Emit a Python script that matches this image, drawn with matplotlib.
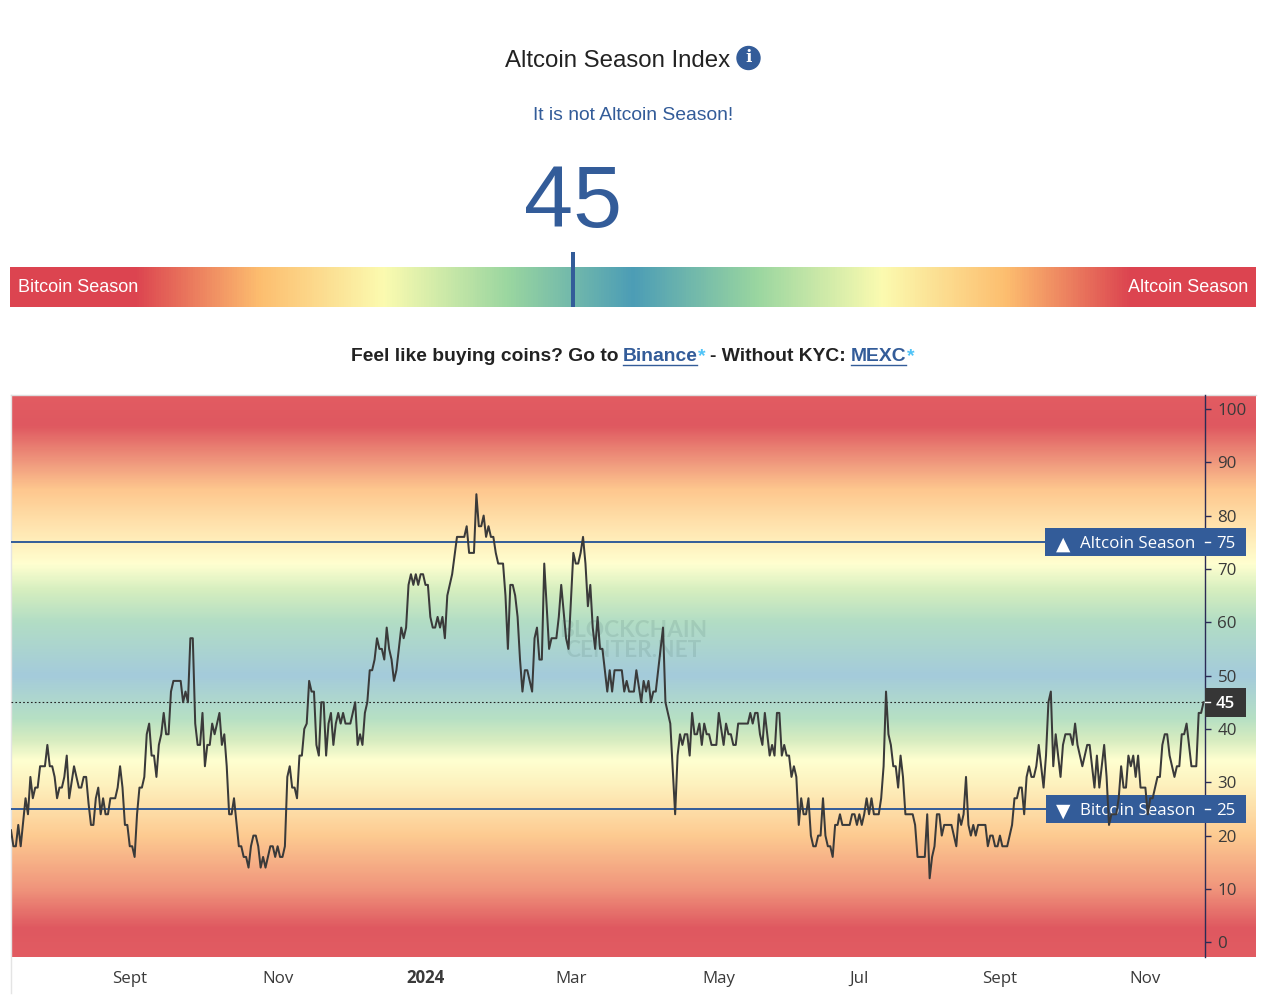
import numpy as np
import matplotlib
matplotlib.use("Agg")
import matplotlib.pyplot as plt
from matplotlib.colors import LinearSegmentedColormap
from matplotlib.patches import Circle, Rectangle
from matplotlib.transforms import blended_transform_factory

bars = [
    0, 1, 2, 3, 4, 6, 7, 8, 9, 10,
    11, 12, 14, 15, 16, 17, 18, 19, 20, 21,
    22, 23, 24, 26, 28, 29, 30, 31, 32, 33,
    34, 35, 36, 37, 38, 39, 40, 41, 43, 44,
    45, 46, 47, 48, 49, 50, 51, 52, 53, 54,
    55, 56, 57, 58, 59, 60, 61, 62, 63, 64,
    65, 66, 67, 70, 71, 72, 73, 74, 75, 76,
    77, 78, 79, 80, 81, 82, 83, 84, 86, 87,
    88, 89, 90, 91, 92, 94, 95, 96, 97, 98,
    99, 100, 101, 102, 103, 104, 105, 107, 108, 109,
    110, 111, 112, 113, 114, 115, 116, 117, 118, 119,
    120, 121, 122, 123, 124, 125, 126, 127, 128, 129,
    130, 131, 132, 133, 134, 135, 136, 137, 138, 140,
    142, 143, 144, 145, 146, 147, 148, 149, 150, 151,
    152, 153, 154, 155, 156, 157, 158, 159, 160, 161,
    162, 163, 164, 165, 166, 167, 168, 169, 170, 171,
    172, 173, 174, 175, 176, 177, 178, 179, 180, 181,
    182, 184, 187, 188, 189, 191, 192, 193, 194, 195,
    196, 197, 198, 199, 200, 201, 203, 204, 205, 206,
    207, 208, 209, 210, 211, 212, 213, 215, 216, 217,
    218, 219, 220, 222, 223, 225, 226, 227, 229, 230,
    232, 233, 234, 235, 236, 237, 238, 239, 240, 241,
    242, 243, 244, 246, 247, 248, 249, 252, 253, 254,
    255, 257, 258, 260, 261, 262, 263, 264, 265, 266,
    269, 270, 272, 274, 275, 276, 277, 278, 279, 280,
    281, 282, 283, 284, 285, 286, 287, 288, 289, 291,
    292, 294, 295, 296, 297, 298, 299, 300, 304, 305,
    306, 307, 308, 309, 310, 311, 313, 314, 315, 316,
    317, 318, 319, 320, 321, 322, 323, 324, 325, 326,
    327, 328, 329, 330, 331, 332, 333, 334, 335, 336,
    337, 338, 339, 340, 341, 342, 343, 346, 347, 348,
    349, 350, 351, 352, 353, 354, 355, 356, 358, 359,
    360, 361, 362, 363, 364, 365, 366, 367, 368, 369,
    372, 373, 374, 377, 378, 379, 380, 381, 382, 383,
    384, 385, 388, 389, 390, 391, 392, 393, 394, 395,
    396, 397, 398, 399, 402, 403, 404, 405, 406, 407,
    408, 409, 411, 413, 414, 415, 416, 417, 418, 419,
    420, 421, 422, 423, 424, 426, 427, 428, 429, 430,
    431, 433, 434, 435, 437, 438, 439, 440, 442, 444,
    445, 447, 448, 449, 451, 452, 453, 454, 456, 457,
    458, 459, 460, 461, 462, 463, 464, 465, 466, 468,
    469, 470, 471, 473, 474, 475, 476, 477, 478, 480,
    481, 482, 483, 484, 485, 487, 489, 490, 491, 492,
]
index_values = [
    21, 18, 18, 22, 18, 27, 24, 31, 27, 29,
    29, 33, 33, 37, 33, 33, 31, 27, 29, 29,
    31, 35, 27, 33, 29, 29, 31, 31, 26, 22,
    22, 27, 29, 24, 27, 24, 24, 27, 27, 29,
    33, 29, 22, 22, 18, 18, 16, 24, 29, 29,
    31, 39, 41, 35, 35, 31, 37, 39, 43, 39,
    39, 47, 49, 49, 45, 47, 45, 57, 57, 41,
    37, 37, 43, 33, 37, 37, 41, 39, 43, 37,
    39, 33, 24, 24, 27, 18, 18, 16, 16, 14,
    18, 20, 20, 18, 14, 16, 14, 18, 18, 16,
    18, 16, 16, 18, 31, 33, 29, 29, 27, 35,
    35, 40, 41, 49, 47, 47, 37, 35, 45, 45,
    35, 41, 43, 37, 41, 43, 41, 43, 41, 41,
    45, 37, 39, 37, 43, 45, 51, 51, 53, 57,
    55, 55, 53, 59, 55, 53, 49, 51, 55, 59,
    57, 59, 67, 69, 67, 69, 67, 69, 69, 67,
    67, 61, 59, 59, 61, 59, 61, 57, 65, 67,
    69, 76, 76, 78, 73, 73, 84, 78, 78, 80,
    76, 78, 76, 76, 73, 71, 71, 65, 55, 67,
    67, 65, 61, 53, 47, 51, 51, 47, 57, 59,
    53, 53, 71, 55, 57, 57, 61, 67, 57, 55,
    73, 71, 71, 73, 76, 71, 63, 67, 59, 55,
    61, 55, 55, 47, 51, 47, 51, 51, 47, 49,
    47, 47, 51, 45, 49, 47, 49, 45, 47, 47,
    59, 45, 41, 24, 35, 39, 37, 39, 39, 35,
    43, 39, 39, 41, 37, 41, 39, 39, 37, 37,
    43, 37, 41, 39, 39, 37, 37, 41, 41, 43,
    41, 43, 43, 39, 37, 43, 35, 37, 35, 43,
    43, 35, 37, 35, 35, 31, 33, 31, 22, 27,
    24, 24, 27, 20, 18, 18, 20, 20, 27, 20,
    18, 18, 16, 22, 22, 24, 22, 22, 24, 24,
    22, 24, 22, 24, 27, 24, 27, 24, 24, 27,
    33, 47, 39, 37, 33, 33, 29, 35, 31, 24,
    24, 22, 16, 16, 24, 12, 16, 18, 24, 24,
    20, 22, 22, 20, 18, 24, 22, 24, 31, 22,
    20, 22, 20, 22, 22, 18, 20, 20, 18, 18,
    20, 18, 18, 22, 27, 27, 29, 29, 24, 31,
    33, 31, 31, 33, 37, 29, 35, 45, 47, 33,
    39, 31, 37, 39, 39, 37, 41, 37, 33, 37,
    37, 29, 35, 29, 37, 31, 22, 24, 24, 27,
    33, 29, 29, 35, 33, 35, 31, 35, 29, 29,
    24, 27, 27, 31, 31, 37, 39, 39, 35, 31,
    33, 33, 39, 39, 41, 33, 33, 43, 43, 45,
]

month_bars = [49, 110, 171, 231, 292, 350, 408, 468]
month_labels = ["Sept", "Nov", "2024", "Mar", "May", "Jul", "Sept", "Nov"]
y_ticks = [0, 10, 20, 30, 40, 50, 60, 70, 80, 90, 100]

current = 45
altcoin_level = 75
bitcoin_level = 25

BLUE = "#335C99"
DARK = "#3A3A3A"
W, H = 1268, 1008

# gauge gradient along 0-100
gauge_stops = [0, 10, 20, 30, 40, 50, 60, 70, 80, 90, 100]
gauge_colors = ["#DC4450", "#DC4450", "#FDBE6F", "#FBFBB0", "#9AD6A0", "#4C9DB6",
                "#9AD6A0", "#FBFBB0", "#FDBE6F", "#DC4450", "#DC4450"]

# chart background gradient by index value
bg_stops = [-3, 2.5, 10, 20, 25, 30, 34, 38, 42, 50, 60, 66, 71, 80, 85, 90, 97, 103]
bg_colors = ["#E25C62", "#DF5860", "#F0957C", "#FDCB91", "#FDDFA9", "#FDF3C0", "#FFFFD0",
             "#D6ECC0", "#B6E0C4", "#A4CBDB", "#B2DDC5", "#D5EEBF", "#FFFFD0", "#FFDCA5",
             "#FEC78E", "#F09A7E", "#DF5860", "#E25C62"]


def make_cmap(stops, colors):
    lo, hi = stops[0], stops[-1]
    pos = [(s - lo) / (hi - lo) for s in stops]
    return LinearSegmentedColormap.from_list("grad", list(zip(pos, colors)), N=512)


plt.rcParams["font.family"] = ["Liberation Sans", "DejaVu Sans"]

fig = plt.figure(figsize=(W / 100, H / 100), dpi=100)

# page layer works in picture pixels
page = fig.add_axes([0, 0, 1, 1])
page.axis("off")

page.text(505, 61, "Altcoin Season Index", fontsize=17.25, color="#222222", va="center")
page.add_patch(Circle((748.5, 58), 11.5, color=BLUE))
page.text(748.5, 58, "i", fontsize=12, color="white", fontweight="bold",
          family="DejaVu Serif", ha="center", va="center")
page.text(633, 115, "It is not Altcoin Season!", fontsize=13.9, color=BLUE, ha="center", va="center")
page.text(573, 227, str(current), fontsize=63.5, color=BLUE, ha="center", va="baseline")

gauge_cmap = make_cmap(gauge_stops, gauge_colors)
page.imshow(np.linspace(0, 1, 1246).reshape(1, -1), cmap=gauge_cmap, aspect="auto",
            extent=(10, 1256, 307, 267))
page.add_patch(Rectangle((570.5, 252), 4.5, 55, color=BLUE, lw=0))
page.text(18, 288, "Bitcoin Season", fontsize=13, color="white", va="center")
page.text(1248, 288, "Altcoin Season", fontsize=13, color="white", va="center", ha="right")

promo = [(351, "Feel like buying coins? Go to", "#222222"), (623, "Binance", BLUE),
         (698, "*", "#4FC3F7"), (710, "- Without KYC:", "#222222"),
         (851, "MEXC", BLUE), (907, "*", "#4FC3F7")]
for x, txt, col in promo:
    page.text(x, 356.5, txt, fontsize=13.85, fontweight="bold", color=col, va="center")
page.plot([623, 697], [364.5, 364.5], color=BLUE, lw=1)
page.plot([851, 906], [364.5, 364.5], color=BLUE, lw=1)

y_low = -2.76
y_high = 102.6
bg_cmap = make_cmap(bg_stops, bg_colors)
grad = ((np.linspace(y_high, y_low, 562) - bg_stops[0]) / (bg_stops[-1] - bg_stops[0])).reshape(-1, 1)
page.imshow(grad, cmap=bg_cmap, vmin=0, vmax=1, aspect="auto", extent=(11, 1256, 957, 395))
page.plot([10.5, 10.5], [395, 993], color="#E4E4E4", lw=1)
page.plot([11, 1256], [394.5, 394.5], color="#DDDDDD", lw=1)
page.set_xlim(0, W)
page.set_ylim(H, 0)

# chart itself
ax = fig.add_axes([11 / W, 1 - 957 / H, (1205 - 11) / W, (957 - 395) / H])
ax.patch.set_alpha(0)
ax.set_xlim(0, 492.6)
ax.set_ylim(y_low, y_high)
for side in ["top", "left", "bottom"]:
    ax.spines[side].set_visible(False)
ax.spines["right"].set_color("#2B2B55")
ax.spines["right"].set_linewidth(1)

ax.yaxis.tick_right()
ax.set_yticks(y_ticks)
ax.tick_params(axis="y", length=4, width=1, color="#2B2B55", labelcolor=DARK, labelsize=12.2, pad=5)
ax.set_xticks(month_bars, month_labels)
ax.tick_params(axis="x", length=0, labelcolor=DARK, labelsize=12.2, pad=18.5)
for lab in ax.get_xticklabels() + ax.get_yticklabels():
    lab.set_family(["Open Sans", "DejaVu Sans"])
for lab in ax.get_xticklabels():
    lab.set_verticalalignment("baseline")
ax.get_xticklabels()[2].set_fontweight("bold")

ax.text(633, 640.5, "BLOCKCHAIN\nCENTER.NET", transform=page.transData, fontsize=16.3, family="Lato",
        fontweight="bold", color="#4A6E6A", alpha=0.15, ha="center", va="center", linespacing=0.95)

ax.axhline(altcoin_level, color=BLUE, lw=1.4, zorder=2)
ax.axhline(bitcoin_level, color=BLUE, lw=1.4, zorder=2)
ax.axhline(current, color="#222222", lw=0.8, ls=(0, (1.5, 2)), zorder=2)

tag_tr = blended_transform_factory(page.transData, ax.transData)
unit = 562 / (y_high - y_low)


def tag(level, left, color, height=28):
    ax.add_patch(Rectangle((left, level - height / 2 / unit), 1246 - left, height / unit,
                           transform=tag_tr, color=color, lw=0, clip_on=False, zorder=3))
    ax.plot([1205, 1210], [level, level], transform=tag_tr, color="white", lw=1,
            clip_on=False, zorder=3.5)
    ax.text(1216, level, str(level), transform=tag_tr, fontsize=12.2, color="white",
            family=["Open Sans", "DejaVu Sans"], va="center_baseline", zorder=4,
            fontweight="semibold" if level == current else "normal")


tag(altcoin_level, 1045, BLUE)
tag(bitcoin_level, 1046, BLUE)
tag(current, 1205, "#363636", height=29)
ax.text(1056, altcoin_level, "\u25B2", transform=tag_tr, fontsize=13.5, color="white",
        family="DejaVu Sans", va="center_baseline", zorder=4)
ax.text(1080, altcoin_level, "Altcoin Season", transform=tag_tr, fontsize=12.2, color="white",
        family=["Open Sans", "DejaVu Sans"], va="center_baseline", zorder=4)
ax.text(1056, bitcoin_level, "\u25BC", transform=tag_tr, fontsize=13.5, color="white",
        family="DejaVu Sans", va="center_baseline", zorder=4)
ax.text(1080, bitcoin_level, "Bitcoin Season", transform=tag_tr, fontsize=12.2, color="white",
        family=["Open Sans", "DejaVu Sans"], va="center_baseline", zorder=4)

ax.plot(bars, index_values, color=DARK, lw=1.45, solid_joinstyle="round", zorder=5)

fig.savefig("out.png", dpi=100, facecolor="white")
